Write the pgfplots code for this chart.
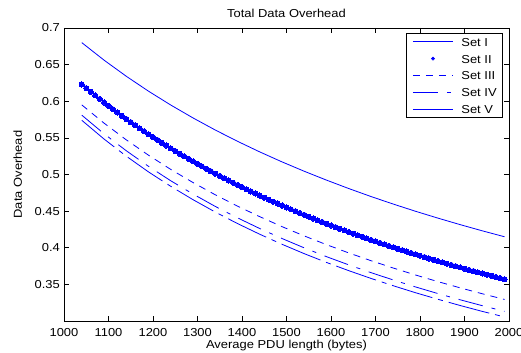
\documentclass[border=0pt]{standalone}
\usepackage{fontspec}
\setmainfont{Liberation Sans}[FakeStretch=1.12]
\usepackage{pgfplots}
\pgfplotsset{compat=1.18}
\pgfplotsset{
  lineleg/.style={legend image code/.code={\draw[##1] (0bp,0bp) -- (40bp,0bp);}},
  dotleg/.style={legend image code/.code={\fill[blue] (20bp,0bp) circle (1.6bp);}},
  every axis title/.style={at={(axis description cs:0.5,1)}, anchor=center, yshift=14.5bp, inner sep=0pt},
}
\begin{document}
\begin{tikzpicture}
\useasboundingbox (-64bp,-32bp) rectangle (457bp,321bp);
\begin{axis}[
  scale only axis,
  width=445bp, height=293bp,
  xmin=1000, xmax=2000, ymin=0.3, ymax=0.7,
  xtick={1000,1100,...,2000},
  ytick={0.35,0.4,0.45,0.5,0.55,0.6,0.65,0.7},
  /pgf/number format/assume math mode=true,
  /pgf/number format/1000 sep={},
  font=\fontsize{11.6}{13}\selectfont,
  axis line style={black, line width=0.9bp},
  tick style={black, line width=0.6bp},
  major tick length=5bp,
  tick align=inside,
  xticklabel style={anchor=base, inner sep=0pt, yshift=-15bp},
  yticklabel style={anchor=east, inner sep=0pt, xshift=-4bp},
  title={Total Data Overhead},
  xlabel={Average PDU length (bytes)},
  xlabel style={at={([yshift=-27.5bp]axis description cs:0.5,0)}, anchor=base, inner sep=0pt},
  ylabel={Data Overhead},
  ylabel style={at={([xshift=-42bp]axis description cs:0,0.5)}, anchor=base, inner sep=0pt},
  legend style={at={([xshift=-6bp,yshift=-5bp]axis description cs:1,1)}, anchor=north east,
    draw=black, line width=0.7bp, inner xsep=6bp, inner ysep=4bp,
    nodes={inner sep=0pt, text height=9bp, text depth=0bp},
    row sep=7.8bp,
    /tikz/every odd column/.append style={column sep=8bp}},
  legend cell align=left,
]
\addplot[blue, line width=0.8bp, lineleg]
coordinates {
(1040,0.6800) (1090,0.6561) (1140,0.6341) (1190,0.6137) (1240,0.5948)
(1290,0.5772) (1340,0.5607) (1390,0.5453) (1440,0.5308) (1490,0.5172)
(1540,0.5044) (1590,0.4923) (1640,0.4808) (1690,0.4699) (1740,0.4596)
(1790,0.4498) (1840,0.4405) (1890,0.4316) (1940,0.4231) (1990,0.4150)
};
\addlegendentry{Set I}
\addplot[blue, only marks, mark=*, mark size=2.6bp, mark options={fill=blue, draw=blue, line width=0pt}, dotleg]
coordinates {
(1040,0.6230) (1050,0.6179) (1060,0.6129) (1070,0.6080) (1080,0.6031)
(1090,0.5984) (1100,0.5937) (1110,0.5891) (1120,0.5846) (1130,0.5802)
(1140,0.5758) (1150,0.5715) (1160,0.5673) (1170,0.5631) (1180,0.5590)
(1190,0.5550) (1200,0.5510) (1210,0.5471) (1220,0.5433) (1230,0.5395)
(1240,0.5357) (1250,0.5320) (1260,0.5284) (1270,0.5249) (1280,0.5213)
(1290,0.5179) (1300,0.5144) (1310,0.5111) (1320,0.5077) (1330,0.5045)
(1340,0.5012) (1350,0.4980) (1360,0.4949) (1370,0.4918) (1380,0.4887)
(1390,0.4857) (1400,0.4827) (1410,0.4798) (1420,0.4769) (1430,0.4740)
(1440,0.4712) (1450,0.4684) (1460,0.4657) (1470,0.4630) (1480,0.4603)
(1490,0.4576) (1500,0.4550) (1510,0.4524) (1520,0.4499) (1530,0.4473)
(1540,0.4448) (1550,0.4424) (1560,0.4399) (1570,0.4375) (1580,0.4352)
(1590,0.4328) (1600,0.4305) (1610,0.4282) (1620,0.4259) (1630,0.4237)
(1640,0.4215) (1650,0.4193) (1660,0.4171) (1670,0.4150) (1680,0.4128)
(1690,0.4107) (1700,0.4087) (1710,0.4066) (1720,0.4046) (1730,0.4026)
(1740,0.4006) (1750,0.3986) (1760,0.3967) (1770,0.3948) (1780,0.3929)
(1790,0.3910) (1800,0.3891) (1810,0.3873) (1820,0.3854) (1830,0.3836)
(1840,0.3818) (1850,0.3801) (1860,0.3783) (1870,0.3766) (1880,0.3749)
(1890,0.3732) (1900,0.3715) (1910,0.3698) (1920,0.3682) (1930,0.3665)
(1940,0.3649) (1950,0.3633) (1960,0.3617) (1970,0.3601) (1980,0.3586)
(1990,0.3570)
};
\addlegendentry{Set II}
\addplot[blue, line width=0.8bp, dash pattern=on 7bp off 6bp, lineleg]
coordinates {
(1040,0.5950) (1090,0.5701) (1140,0.5473) (1190,0.5263) (1240,0.5069)
(1290,0.4890) (1340,0.4723) (1390,0.4568) (1440,0.4424) (1490,0.4288)
(1540,0.4161) (1590,0.4042) (1640,0.3929) (1690,0.3823) (1740,0.3723)
(1790,0.3628) (1840,0.3538) (1890,0.3453) (1940,0.3372) (1990,0.3294)
};
\addlegendentry{Set III}
\addplot[blue, line width=0.8bp, dash pattern=on 25bp off 9bp on 4bp off 9bp, lineleg]
coordinates {
(1040,0.5810) (1090,0.5556) (1140,0.5324) (1190,0.5111) (1240,0.4914)
(1290,0.4733) (1340,0.4564) (1390,0.4408) (1440,0.4262) (1490,0.4126)
(1540,0.3998) (1590,0.3878) (1640,0.3766) (1690,0.3660) (1740,0.3560)
(1790,0.3465) (1840,0.3375) (1890,0.3290) (1940,0.3209) (1990,0.3132)
};
\addlegendentry{Set IV}
\addplot[blue, line width=0.8bp, dash pattern=on 42bp off 6bp on 5bp off 6bp, lineleg]
coordinates {
(1040,0.5740) (1090,0.5484) (1140,0.5250) (1190,0.5035) (1240,0.4838)
(1290,0.4656) (1340,0.4487) (1390,0.4330) (1440,0.4184) (1490,0.4047)
(1540,0.3919) (1590,0.3799) (1640,0.3687) (1690,0.3581) (1740,0.3481)
(1790,0.3386) (1840,0.3297) (1890,0.3212) (1940,0.3131) (1990,0.3055)
};
\addlegendentry{Set V}
\end{axis}
\end{tikzpicture}
\end{document}
